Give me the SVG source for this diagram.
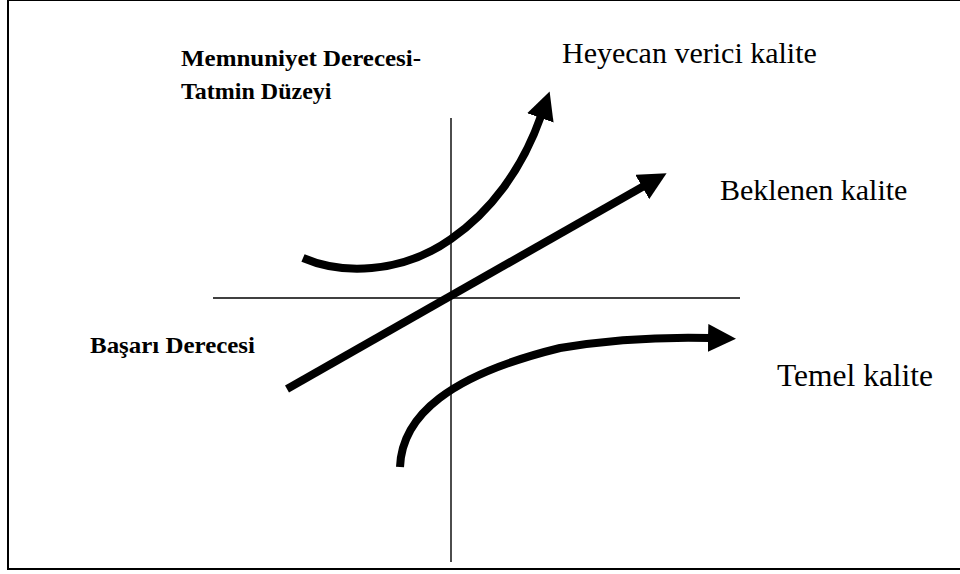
<svg xmlns="http://www.w3.org/2000/svg" width="960" height="574" viewBox="0 0 960 574">
<style>
.frame{fill:#fff;stroke:#000;stroke-width:2}
.axis{stroke:#000;stroke-width:1.4;fill:none}
.curve{stroke:#000;stroke-width:8;fill:none;marker-end:url(#ah)}
.lbl{font-family:"Liberation Serif","Times New Roman",serif;font-size:30px;fill:#000}
.blbl{font-family:"Liberation Serif","Times New Roman",serif;font-size:24px;font-weight:bold;fill:#000}
</style>
<defs>
<marker id="ah" markerUnits="userSpaceOnUse" viewBox="0 0 28 28" markerWidth="28" markerHeight="28" refX="2" refY="14" orient="auto">
<path d="M0,0 L28,14 L0,28 z" fill="#000"/>
</marker>
</defs>
<rect class="frame" x="8" y="0" width="960" height="569"/>
<g id="axes">
<line class="axis" x1="451" y1="118" x2="451" y2="562"/>
<line class="axis" x1="213" y1="298" x2="740" y2="298"/>
</g>
<g id="connectors">
<path id="heyecan-curve" class="curve" d="M303,258 C340,274 400,275 451,239 C490,212 522,170 541,116"/>
<path id="beklenen-line" class="curve" d="M287,389 L644,186"/>
<path id="temel-curve" class="curve" d="M400,467 C402,415 450,375 560,348 C620,338 670,337 710,338"/>
</g>
<g id="y-label"><text class="blbl" x="181" y="66" textLength="240" lengthAdjust="spacingAndGlyphs">Memnuniyet Derecesi-</text>
<text class="blbl" x="181" y="99">Tatmin Düzeyi</text></g>
<g id="x-label"><text class="blbl" x="90" y="353" textLength="165" lengthAdjust="spacingAndGlyphs">Başarı Derecesi</text></g>
<g id="heyecan"><text class="lbl" x="562" y="63">Heyecan verici kalite</text></g>
<g id="beklenen"><text class="lbl" x="720" y="200">Beklenen kalite</text></g>
<g id="temel"><text class="lbl" x="777" y="386" style="font-size:31.5px">Temel kalite</text></g>
</svg>
